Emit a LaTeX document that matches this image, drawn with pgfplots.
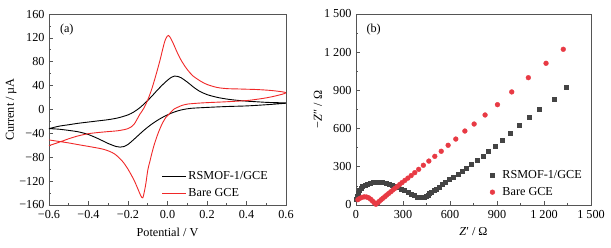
\documentclass[border=0pt]{standalone}
\usepackage{fontspec}
\setmainfont{Liberation Serif}
\usepackage{pgfplots}
\pgfplotsset{compat=1.18}
\definecolor{cvred}{RGB}{240,40,40}
\definecolor{ptred}{RGB}{232,58,68}
\definecolor{ptgray}{RGB}{68,68,68}
\definecolor{frame}{RGB}{85,85,85}
\newcommand\fs{\fontsize{12.2}{14}\selectfont}
\pgfplotsset{
  myaxis/.style={
    scale only axis,
    height=191pt,
    axis line style={frame, line width=0.8pt},
    tick style={frame, line width=0.7pt},
    tick align=inside,
    tick pos=left,
    major tick length=4pt,
    minor tick length=2.2pt,
    minor x tick num=1,
    minor y tick num=1,
    tick label style={font=\fs},
    label style={font=\fs},
    xticklabel style={yshift=-2pt},
    yticklabel style={xshift=-1pt},
    legend cell align=left,
  }
}
\begin{document}
\begin{tikzpicture}
\useasboundingbox (-49pt,-42pt) rectangle (562pt,205pt);
\begin{axis}[myaxis, width=237pt,
  xmin=-0.6, xmax=0.6, ymin=-160, ymax=160,
  xtick={-0.6,-0.4,-0.2,0,0.2,0.4,0.6},
  xticklabels={−0.6,−0.4,−0.2,0.0,0.2,0.4,0.6},
  ytick={-160,-120,-80,-40,0,40,80,120,160},
  yticklabels={−160,−120,−80,−40,0,40,80,120,160},
  xlabel={Potential / V},
  ylabel={Current / µA},
  xlabel style={at={(axis description cs:0.5,-0.141)},anchor=center},
  ylabel style={at={(axis description cs:-0.160,0.5)},anchor=center},
  legend style={draw=none, fill=none, at={(axis description cs:0.47,0.105)}, anchor=west,
    font=\fs, row sep=3.5pt, inner sep=1pt},
  legend image code/.code={\draw[#1] (0pt,0pt) -- (24pt,0pt);},
]
\addplot[black, line width=0.9pt, smooth, tension=0.5] coordinates {
(-0.6,-32) (-0.55,-28) (-0.5,-25.5) (-0.45,-23) (-0.4,-21) (-0.35,-19) (-0.3,-17)
(-0.25,-14) (-0.2,-9) (-0.17,-4) (-0.14,3) (-0.11,12) (-0.08,22) (-0.05,33)
(-0.02,43) (0.0,49) (0.02,54) (0.035,56) (0.05,55.5) (0.07,53) (0.1,46) (0.13,38)
(0.16,31) (0.2,25) (0.25,20.5) (0.3,17.5) (0.35,15.5) (0.4,14) (0.45,13) (0.5,12)
(0.55,11.5) (0.6,11)
(0.6,10.5) (0.5,8) (0.4,6) (0.3,5) (0.2,3.5) (0.12,2) (0.08,0) (0.05,-2.5)
(0.02,-6) (0.0,-9) (-0.03,-14) (-0.06,-20) (-0.09,-27) (-0.12,-35) (-0.15,-44)
(-0.18,-53) (-0.2,-58.5) (-0.22,-62) (-0.24,-63) (-0.26,-62) (-0.3,-57) (-0.35,-49)
(-0.4,-42) (-0.45,-37.5) (-0.5,-35) (-0.55,-33) (-0.6,-32)
};
\addlegendentry{RSMOF-1/GCE}
\addplot[cvred, line width=0.9pt, smooth, tension=0.5] coordinates {
(-0.6,-60.5) (-0.55,-55) (-0.5,-49) (-0.45,-44) (-0.4,-40.5) (-0.35,-38.5) (-0.3,-37)
(-0.25,-35.5) (-0.2,-32) (-0.17,-25) (-0.14,-8) (-0.12,2) (-0.1,16) (-0.08,34)
(-0.06,56) (-0.04,80) (-0.025,100) (-0.015,113) (-0.005,121) (0.005,124) (0.015,120)
(0.03,110) (0.05,95) (0.07,82) (0.1,67) (0.13,56) (0.17,47) (0.2,42) (0.25,37)
(0.3,35) (0.35,34.5) (0.4,34) (0.45,33.5) (0.5,32.5) (0.55,31) (0.6,28)
(0.55,23) (0.5,19.5) (0.45,17) (0.4,15) (0.3,13) (0.2,11.5) (0.15,10.5) (0.1,9)
(0.07,6.5) (0.05,3.5) (0.03,0) (0.01,-7) (-0.01,-14) (-0.03,-26) (-0.05,-42)
(-0.07,-62) (-0.09,-88) (-0.1,-102) (-0.11,-125) (-0.12,-142) (-0.125,-148)
(-0.13,-147.5) (-0.14,-141) (-0.15,-133) (-0.17,-118) (-0.2,-100) (-0.23,-86)
(-0.27,-74) (-0.32,-67) (-0.38,-63) (-0.45,-59) (-0.5,-56) (-0.55,-53.5) (-0.6,-51)
};
\addlegendentry{Bare GCE}
\node[font=\fs] at (axis description cs:0.075,0.92) {(a)};
\end{axis}
\begin{axis}[myaxis, width=235pt, at={(307pt,0pt)},
  xmin=0, xmax=1500, ymin=0, ymax=1500,
  xtick={0,300,600,900,1200,1500},
  xticklabels={0,300,600,900,1 200,1 500},
  ytick={0,300,600,900,1200,1500},
  yticklabels={0,300,600,900,1 200,1 500},
  xlabel={\textit{Z}′ / Ω},
  ylabel={−\textit{Z}″ / Ω},
  xlabel style={at={(axis description cs:0.5,-0.141)},anchor=center},
  ylabel style={at={(axis description cs:-0.162,0.5)},anchor=center},
  legend style={draw=none, fill=none, at={(axis description cs:0.55,0.112)}, anchor=west,
    font=\fs, row sep=3.5pt, inner sep=1pt},
  legend image code/.code={\path[draw=none,fill=none] (0pt,0pt) -- (14pt,0pt); \draw[#1] plot coordinates {(6pt,0pt)};},
]
\addplot[only marks, mark=square*, mark size=2pt, ptgray, mark options={draw=ptgray, fill=ptgray}] coordinates {
(3,45) (6,70) (12,95) (20,115) (30,132) (42,147) (56,158) (72,167) (90,173) (110,177)
(130,178) (150,178) (170,176) (190,172) (210,166) (230,158) (250,150) (270,140)
(290,128) (310,114) (330,100) (350,86) (370,74) (390,65) (405,60) (420,60) (434,64)
(446,71) (458,79) (470,89) (482,100) (496,113) (511,127) (528,142) (548,160) (570,180)
(595,202) (622,222) (650,244) (677,267) (705,291) (737,317) (771,348) (809,385)
(845,422) (888,463) (934,511) (983,563) (1043,623) (1103,686) (1170,754) (1264,833)
(1340,925)
};
\addlegendentry{RSMOF-1/GCE}
\addplot[only marks, mark=*, mark size=2.4pt, ptred, mark options={draw=ptred, fill=ptred}] coordinates {
(12,42) (24,52) (38,60) (52,64) (66,63) (80,57) (93,46) (105,32) (116,18) (127,6)
(138,17) (149,29) (160,41) (172,53) (184,65) (196,78) (209,91) (222,104) (236,118)
(250,132) (264,146) (279,161) (294,176) (312,193) (331,211) (352,231) (375,254)
(400,280) (430,312) (465,345) (503,382) (544,422) (588,469) (637,518) (695,581)
(754,636) (824,707) (903,788) (994,888) (1100,1000) (1213,1113) (1323,1223)
};
\addlegendentry{Bare GCE}
\node[font=\fs] at (axis description cs:0.075,0.92) {(b)};
\end{axis}
\end{tikzpicture}
\end{document}
